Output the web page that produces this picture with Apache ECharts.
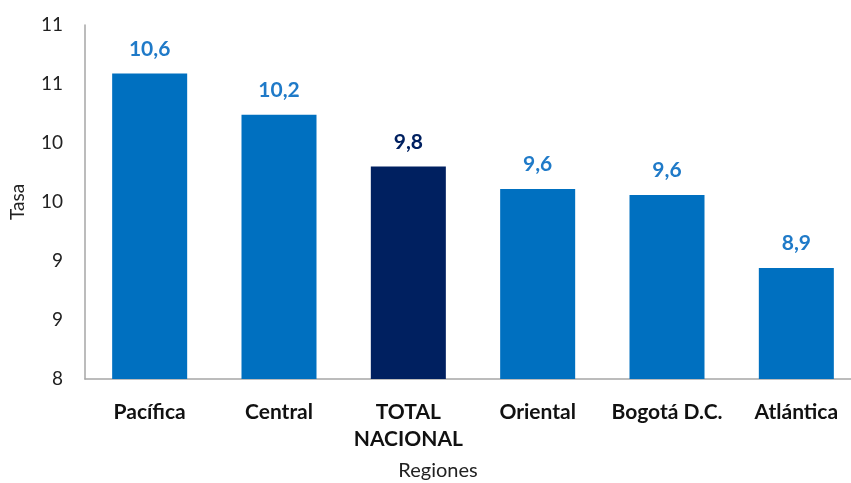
<!DOCTYPE html>
<html>
<head>
<meta charset="utf-8">
<script src="https://cdn.jsdelivr.net/npm/echarts@6/dist/echarts.min.js"></script>
<style>html,body{margin:0;padding:0;background:#fff}#c{width:851px;height:483px}</style>
</head>
<body>
<div id="c"></div>
<script>
var categories = ['Pacífica', 'Central', 'TOTAL\nNACIONAL', 'Oriental', 'Bogotá D.C.', 'Atlántica'];
var values = [10.59, 10.24, 9.80, 9.61, 9.56, 8.94];
var highlightIndex = 2;
var yTicks = [8, 8.5, 9, 9.5, 10, 10.5, 11];

var FONT = 'Lato, "Open Sans", sans-serif';
var BLUE = '#0070C0';
var NAVY = '#002060';

var chart = echarts.init(document.getElementById('c'));
chart.setOption({
  animation: false,
  grid: { left: 85, right: -10, top: 25, bottom: 104, containLabel: false, outerBoundsMode: 'none' },
  xAxis: {
    type: 'category',
    data: categories,
    name: 'Regiones',
    nameLocation: 'middle',
    nameGap: 82,
    nameTextStyle: { fontFamily: FONT, fontSize: 20, color: '#222', padding: [0, 70, 0, 0] },
    axisLine: { lineStyle: { color: '#A6A6A6', width: 1.5 } },
    axisTick: { show: false },
    axisLabel: { fontFamily: FONT, fontSize: 21, fontWeight: 'bold', color: '#111', margin: 20, lineHeight: 27, interval: 0 }
  },
  yAxis: {
    type: 'value',
    min: yTicks[0],
    max: yTicks[yTicks.length - 1],
    interval: 0.5,
    name: 'Tasa',
    nameLocation: 'middle',
    nameGap: 58,
    nameRotate: 90,
    nameTextStyle: { fontFamily: FONT, fontSize: 19, color: '#222' },
    splitLine: { show: false },
    axisTick: { show: false },
    axisLine: { show: true, lineStyle: { color: '#A6A6A6', width: 1.5 } },
    axisLabel: {
      fontFamily: FONT, fontSize: 19, color: '#222', margin: 22,
      formatter: function (v) { return String(Math.floor(v + 0.5 + 1e-9)); }
    }
  },
  series: [{
    type: 'bar',
    barCategoryGap: '42%',
    data: values.map(function (v, i) {
      var c = i === highlightIndex ? NAVY : BLUE;
      return {
        value: v,
        itemStyle: { color: c },
        label: { color: i === highlightIndex ? NAVY : '#1F7AC8' }
      };
    }),
    label: {
      show: true,
      position: 'top',
      distance: 14,
      fontFamily: FONT,
      fontSize: 21,
      fontWeight: 'bold',
      formatter: function (p) { return p.value.toFixed(1).replace('.', ','); }
    }
  }]
});
</script>
</body>
</html>
